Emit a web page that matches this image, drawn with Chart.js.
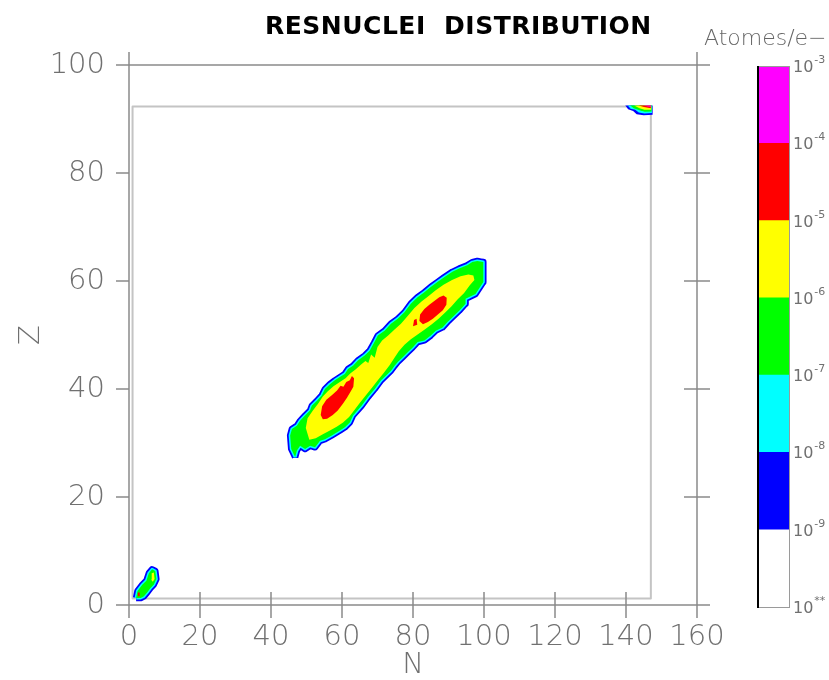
<!DOCTYPE html>
<html>
<head>
<meta charset="utf-8">
<script src="https://cdn.jsdelivr.net/npm/chart.js@4.4.1/dist/chart.umd.min.js"></script>
<style>
  html, body { margin: 0; padding: 0; background: #fff; }
  #wrap { position: relative; width: 829px; height: 680px; overflow: hidden; }
  #main { position: absolute; left: 0; top: 0; }
  #bar { position: absolute; left: 740px; top: 0; }
  #title { position: absolute; left: 265px; top: 13px; font-family: 'DejaVu Sans'; font-weight: bold;
           font-size: 25px; line-height: 25px; letter-spacing: 0.5px; color: #000; white-space: nowrap; }
  #unit { position: absolute; left: 704px; top: 27px; font-family: 'DejaVu Sans'; font-weight: 200;
          font-size: 22px; line-height: 22px; color: #666; white-space: nowrap; }
</style>
</head>
<body>
<div id="wrap">
  <canvas id="main" width="829" height="680"></canvas>
  <canvas id="bar" width="89" height="680"></canvas>
  <div id="title">RESNUCLEI&nbsp;&nbsp;DISTRIBUTION</div>
  <div id="unit">Atomes/e&minus;</div>
</div>
<script>
// axes
const nRange = [0, 160];
const zRange = [0, 100];
const tickStep = 20;

// colour scale: decades from the bottom (10^** .. 10^-3)
const levelExp = ['**', '-9', '-8', '-7', '-6', '-5', '-4', '-3'];
const levelColors = ['#ffffff', '#0000ff', '#00ffff', '#00ff00', '#ffff00', '#ff0000', '#ff00ff'];
const bandSpan = [1, 1, 1, 1, 1, 1, 1];

// scored region (N, Z)
const binBox = [[1, 1.2], [147, 1.2], [147, 92.3], [1, 92.3]];

// fission fragment ridge, contours (N, Z)
const ridgeOuter = [
  [46.8, 27.4], [45.7, 28.9], [45.4, 31.4], [45.9, 32.6], [47.3, 33.2], [48.2, 34.1], [49.6, 35.1],
  [51.0, 36.0], [51.5, 36.9], [52.9, 37.8], [54.3, 38.8], [55.2, 40.0], [56.6, 40.9], [58.0, 41.6],
  [59.4, 42.2], [60.8, 42.8], [61.7, 43.7], [63.1, 44.3], [64.5, 45.3], [66.4, 46.2], [67.8, 47.1],
  [69.0, 48.5], [70.1, 49.9], [72.0, 50.8], [73.8, 52.1], [75.7, 53.0], [77.6, 54.2], [79.4, 55.8],
  [81.3, 57.0], [83.2, 57.9], [85.0, 58.9], [86.9, 59.8], [88.8, 60.7], [91.1, 61.7], [93.0, 62.3],
  [95.3, 62.9], [96.7, 63.5], [98.1, 63.7], [99.8, 63.5], [99.8, 59.8], [97.6, 57.6], [94.8, 56.7],
  [94.8, 55.8], [93.0, 54.5], [91.1, 53.3], [89.7, 52.4], [88.3, 51.4], [86.4, 50.8], [85.0, 49.9],
  [83.2, 49.0], [81.3, 48.7], [79.9, 47.7], [78.5, 46.8], [77.1, 45.9], [75.7, 45.0], [74.8, 44.3],
  [73.8, 43.4], [71.0, 41.6], [69.2, 40.0], [67.3, 38.5], [65.5, 36.9], [63.1, 35.1], [62.2, 33.8],
  [60.8, 32.9], [59.4, 32.3], [57.1, 31.4], [55.2, 30.7], [53.8, 30.4], [52.4, 29.2], [51.0, 29.5],
  [49.6, 28.9], [48.2, 29.5], [47.3, 28.6]
];
const ridgeYellow = [
  [49.8, 32.8], [50.3, 34.6], [51.8, 36.0], [53.3, 37.3], [54.6, 38.6], [56.0, 39.6], [57.6, 40.5],
  [59.4, 41.3], [61.0, 42.0], [62.4, 42.9], [63.8, 43.6], [65.3, 44.5], [66.6, 45.2], [67.4, 44.8],
  [68.2, 46.4], [69.2, 45.8], [70.0, 47.8], [71.3, 49.0], [73.0, 49.9], [74.8, 51.0], [76.6, 52.1],
  [78.5, 53.5], [80.4, 55.0], [82.4, 56.2], [84.4, 57.2], [86.4, 58.3], [88.6, 59.3], [91.0, 60.2],
  [93.4, 60.9], [95.6, 61.2], [97.0, 61.0], [97.3, 60.2], [96.0, 59.2], [94.4, 57.8], [92.6, 56.6],
  [90.8, 55.3], [89.0, 54.1], [87.2, 53.0], [85.3, 52.0], [83.3, 51.0], [81.3, 50.1], [79.4, 49.2],
  [77.6, 48.2], [76.0, 47.0], [74.6, 45.6], [73.4, 44.4], [71.8, 43.0], [70.2, 41.7], [68.5, 40.3],
  [66.8, 38.9], [65.0, 37.4], [63.4, 36.0], [62.0, 34.8], [60.3, 33.8], [58.5, 33.0], [56.6, 32.3],
  [54.6, 31.6], [52.6, 30.9], [50.8, 30.6]
];
const ridgeRedLow = [
  [54.0, 35.2], [54.4, 36.8], [55.6, 38.0], [57.2, 38.9], [58.6, 39.7], [59.6, 40.6], [60.4, 40.4],
  [61.2, 41.3], [62.2, 41.6], [62.8, 42.4], [63.4, 42.0], [63.2, 40.4], [62.4, 39.5], [61.4, 38.4],
  [60.2, 37.2], [58.8, 36.0], [57.4, 35.2], [55.8, 34.5], [54.6, 34.4]
];
const ridgeRedHigh = [
  [81.8, 52.6], [82.0, 53.8], [83.2, 54.8], [84.6, 55.6], [86.0, 56.3], [87.4, 57.0], [88.6, 57.3],
  [89.5, 56.9], [89.4, 55.6], [88.4, 54.6], [87.0, 53.8], [85.6, 53.0], [84.2, 52.4], [82.8, 52.0]
];
const ridgeRedDot = [[80.0, 51.6], [80.3, 52.8], [81.0, 53.0], [81.2, 51.9]];

// light nuclei near the origin
const lightOuter = [
  [2.0, 1.3], [2.4, 2.6], [3.8, 3.8], [4.9, 4.5], [5.6, 5.9], [6.5, 6.6], [7.4, 6.3], [7.7, 4.8],
  [7.0, 3.8], [6.0, 3.1], [5.1, 2.3], [4.2, 1.6], [3.3, 1.3]
];
const lightYellow = [[6.2, 4.7], [6.4, 5.9], [7.0, 6.0], [7.2, 4.8], [6.7, 4.3]];
const lightRed = [[2.4, 1.6], [2.5, 2.3], [3.0, 2.3], [3.0, 1.6]];

// heavy residuals in the top right corner
const heavyBlue = [[139.8, 92.5], [140.6, 91.8], [142.0, 91.5], [143.0, 90.9], [145.0, 90.7], [147.5, 90.8], [147.5, 92.5]];
const heavyCyan = [[140.5, 92.5], [141.3, 91.9], [142.6, 91.7], [143.6, 91.2], [145.2, 91.0], [147.3, 91.1], [147.3, 92.5]];
const heavyGreen = [[141.2, 92.5], [142.2, 92.0], [143.8, 91.6], [145.3, 91.35], [147.2, 91.4], [147.2, 92.5]];
const heavyYellow = [[142.3, 92.5], [143.8, 92.0], [145.2, 91.7], [147.1, 91.7], [147.1, 92.5]];
const heavyRed = [[143.6, 92.5], [145.0, 92.2], [147.0, 92.0], [147.0, 92.5]];
const heavyMagenta = [[145.0, 92.5], [146.2, 92.3], [147.0, 92.25], [147.0, 92.5]];

const BLUE = '#0000ff', CYAN = '#00ffff', GREEN = '#00ff00', YELLOW = '#ffff00', RED = '#ff0000', MAGENTA = '#ff00ff';
const AXIS = '#8a8a8a';
const TEXT = '#707070';

const layers = [];
const add = (poly, opts) => {
  const closed = poly.concat([poly[0]]);
  layers.push(Object.assign({
    data: closed.map(([x, y]) => ({ x, y })),
    showLine: true, pointRadius: 0, pointHoverRadius: 0, tension: 0,
    borderJoinStyle: 'round', borderColor: 'transparent', borderWidth: 0, fill: false
  }, opts));
};
const area = (poly, color) => add(poly, { fill: 'shape', backgroundColor: color });
// outer contour: blue line, thin cyan band, green inside
const contour = (poly) => {
  add(poly, { borderColor: BLUE, borderWidth: 6.5 });
  add(poly, { borderColor: CYAN, borderWidth: 3 });
  area(poly, GREEN);
};

add(binBox, { borderColor: '#c4c4c4', borderWidth: 2 });
contour(ridgeOuter);
area(ridgeYellow, YELLOW);
area(ridgeRedLow, RED);
area(ridgeRedHigh, RED);
area(ridgeRedDot, RED);
contour(lightOuter);
area(lightYellow, YELLOW);
area(lightRed, RED);
area(heavyBlue, BLUE);
area(heavyCyan, CYAN);
area(heavyGreen, GREEN);
area(heavyYellow, YELLOW);
area(heavyRed, RED);
area(heavyMagenta, MAGENTA);
// first listed is drawn first
layers.forEach((d, i) => { d.order = layers.length - i; });

const frame = {
  id: 'frame',
  afterDraw(chart) {
    const { ctx, scales: { x, y } } = chart;
    const l = x.getPixelForValue(nRange[0]), r = x.getPixelForValue(nRange[1]);
    const t = y.getPixelForValue(zRange[1]), b = y.getPixelForValue(zRange[0]);
    const k = 13;
    ctx.save();
    ctx.strokeStyle = AXIS;
    ctx.lineWidth = 1.5;
    ctx.beginPath();
    ctx.moveTo(l - k, b); ctx.lineTo(r + k, b);
    ctx.moveTo(l - k, t); ctx.lineTo(r + k, t);
    ctx.moveTo(l, t - k); ctx.lineTo(l, b + k);
    ctx.moveTo(r, t - k); ctx.lineTo(r, b + k);
    x.ticks.forEach(tk => {
      const p = x.getPixelForValue(tk.value);
      ctx.moveTo(p, b - k); ctx.lineTo(p, b + k);
    });
    y.ticks.forEach(tk => {
      const p = y.getPixelForValue(tk.value);
      ctx.moveTo(l - k, p); ctx.lineTo(l, p);
      ctx.moveTo(r - k, p); ctx.lineTo(r + k, p);
    });
    ctx.stroke();
    ctx.restore();
  }
};

const tickFont = { family: 'DejaVu Sans', size: 29, weight: 200 };

new Chart(document.getElementById('main'), {
  type: 'scatter',
  data: { datasets: layers },
  options: {
    responsive: false,
    animation: false,
    devicePixelRatio: 1,
    layout: { padding: { left: 0, top: 65, right: 132, bottom: 0 } },
    plugins: { legend: { display: false }, tooltip: { enabled: false } },
    scales: {
      x: {
        type: 'linear', min: nRange[0], max: nRange[1],
        grid: { display: false, drawTicks: false },
        border: { display: false },
        ticks: { stepSize: tickStep, padding: 15, color: TEXT, font: tickFont, maxRotation: 0, autoSkip: false },
        title: { display: true, text: 'N', color: TEXT, padding: 0, font: { family: 'DejaVu Sans', size: 29, weight: 200, lineHeight: 1 } },
        afterFit: s => { s.height = 75; }
      },
      y: {
        type: 'linear', min: zRange[0], max: zRange[1],
        grid: { display: false, drawTicks: false },
        border: { display: false },
        ticks: { stepSize: tickStep, padding: 24, color: TEXT, font: tickFont },
        title: { display: true, text: 'Z', color: TEXT, padding: { top: 17, bottom: 0 }, font: { family: 'DejaVu Sans', size: 29, weight: 200, lineHeight: 1 } },
        afterFit: s => { s.width = 129; }
      }
    }
  },
  plugins: [frame]
});

// colour bar
const barLabels = {
  id: 'barLabels',
  afterDraw(chart) {
    const { ctx, chartArea: a, scales: { y } } = chart;
    ctx.save();
    ctx.strokeStyle = '#9a9a9a';
    ctx.lineWidth = 1;
    ctx.strokeRect(a.left + 0.5, a.top + 0.5, a.right - a.left - 1, a.bottom - a.top);
    ctx.strokeStyle = '#000';
    ctx.lineWidth = 2;
    ctx.beginPath();
    ctx.moveTo(a.left + 1, a.top);
    ctx.lineTo(a.left + 1, a.bottom + 1);
    ctx.stroke();
    ctx.fillStyle = '#707070';
    ctx.textAlign = 'left';
    ctx.textBaseline = 'alphabetic';
    levelExp.forEach((e, i) => {
      const py = y.getPixelForValue(i);
      ctx.font = "16px 'DejaVu Sans'";
      ctx.fillText('10', a.right + 3, py + 6);
      const w = ctx.measureText('10').width;
      ctx.font = "11px 'DejaVu Sans'";
      ctx.fillText(e, a.right + 4 + w, py - 3);
    });
    ctx.restore();
  }
};

new Chart(document.getElementById('bar'), {
  type: 'bar',
  data: {
    labels: [''],
    datasets: levelColors.map((c, i) => ({
      data: [bandSpan[i]], backgroundColor: c, borderWidth: 0,
      barPercentage: 1, categoryPercentage: 1
    }))
  },
  options: {
    responsive: false,
    animation: false,
    devicePixelRatio: 1,
    layout: { padding: { left: 17, right: 39, top: 66, bottom: 73 } },
    plugins: { legend: { display: false }, tooltip: { enabled: false } },
    scales: {
      x: { display: false, stacked: true },
      y: { display: false, stacked: true, min: 0, max: bandSpan.length }
    }
  },
  plugins: [barLabels]
});
</script>
</body>
</html>
